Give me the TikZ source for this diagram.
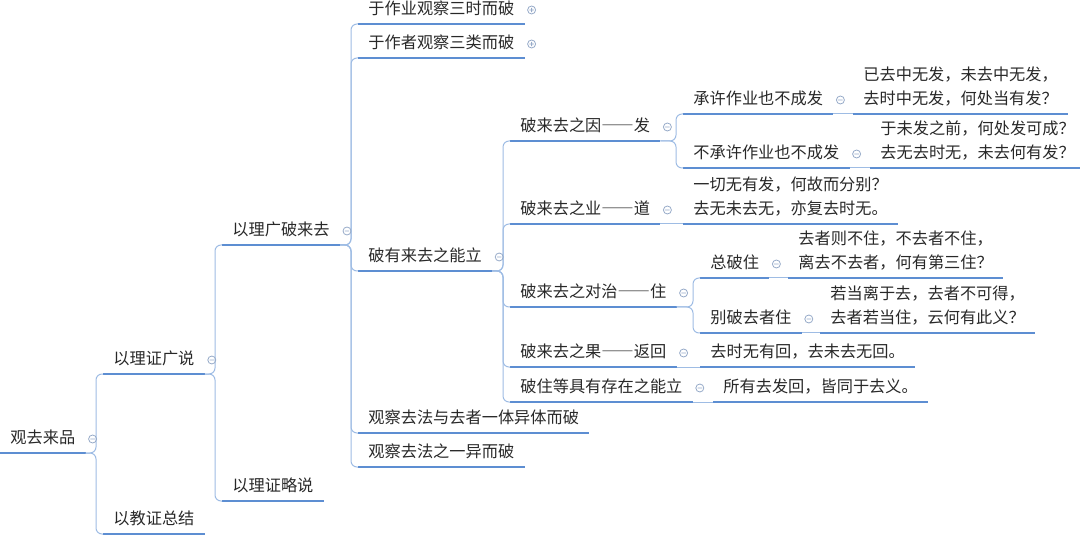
\documentclass[tikz,border=0pt]{standalone}
\usepackage{fontspec}
\setmainfont{Noto Sans CJK SC}
\usepackage{tikz}
\definecolor{lineblue}{RGB}{93, 142, 210}
\definecolor{linklight}{RGB}{158, 188, 228}
\definecolor{foldgray}{RGB}{150, 170, 200}
\definecolor{textdark}{RGB}{40, 40, 40}
\tikzset{
  topic/.style={anchor=south west, inner xsep=5pt, inner ysep=3pt,
    text height=6.5pt, text depth=1.5pt, text=textdark,
    font=\fontsize{8.1}{12}\selectfont,
    append after command={(\tikzlastnode.south west) edge[uline] (\tikzlastnode.south east)}},
  leaf/.style={topic, text height=, align=left},
  uline/.style={lineblue, line width=1.35pt},
  link/.style={linklight, line width=0.5pt, rounded corners=3pt},
  foldmark/.style={foldgray, line width=0.4pt}
}
% 全角破折号
\newcommand\fwdash{{\addfontfeature{RawFeature=+fwid}——}}
% 折叠按钮与分支连线
\newcommand\foldicon[1]{\draw[foldmark] ([xshift=3.5pt,yshift=7pt]#1.south east) circle (2pt) +(-1.1pt,0) -- +(1.1pt,0);}
\newcommand\expandicon[1]{\draw[foldmark] ([xshift=3.5pt,yshift=7pt]#1.south east) circle (2pt) +(-1.1pt,0) -- +(1.1pt,0) +(0,-1.1pt) -- +(0,1.1pt);}
\newcommand\branch[2]{\draw[link] (#1.south east) -| ([xshift=-3.5pt]#2.south west) -- (#2.south west);}

\begin{document}
\begin{tikzpicture}[x=0.5pt, y=-0.5pt]
  \useasboundingbox (0,0) rectangle (1080,539);

  % 第一层
  \node[topic] (root) at (0,453) {观去来品};
  \node[topic] (gz) at (103,374) {以理证广说};
  \node[topic] (jz) at (103,534) {以教证总结};

  % 第二层
  \node[topic] (gp) at (222,245) {以理广破来去};
  \node[topic] (ls) at (222,501) {以理证略说};

  % 第三层
  \node[topic] (sx) at (358,24) {于作业观察三时而破};
  \node[topic] (sl) at (358,58) {于作者观察三类而破};
  \node[topic] (nl) at (358,271) {破有来去之能立};
  \node[topic] (yt) at (358,433) {观察去法与去者一体异体而破};
  \node[topic] (yy) at (358,467) {观察去法之一异而破};

  % 破有来去之能立
  \node[topic] (yin) at (510,141) {破来去之因\fwdash 发};
  \node[topic] (ye) at (510,224) {破来去之业\fwdash 道};
  \node[topic] (dz) at (510,307) {破来去之对治\fwdash 住};
  \node[topic] (guo) at (510,367) {破来去之果\fwdash 返回};
  \node[topic] (nll) at (510,402) {破住等具有存在之能立};

  \node[topic] (cx) at (683,114) {承许作业也不成发};
  \node[topic] (bcx) at (683,168) {不承许作业也不成发};
  \node[topic] (zp) at (700,278) {总破住};
  \node[topic] (bp) at (700,333) {别破去者住};

  % 偈颂
  \node[leaf] (cx1) at (853,114) {已去中无发，未去中无发，\\去时中无发，何处当有发？};
  \node[leaf] (bcx1) at (870,168) {于未发之前，何处发可成？\\去无去时无，未去何有发？};
  \node[leaf] (ye1) at (683,224) {一切无有发，何故而分别？\\去无未去无，亦复去时无。};
  \node[leaf] (zp1) at (788,278) {去者则不住，不去者不住，\\离去不去者，何有第三住？};
  \node[leaf] (bp1) at (820,333) {若当离于去，去者不可得，\\去者若当住，云何有此义？};
  \node[leaf] (guo1) at (700,367) {去时无有回，去未去无回。};
  \node[leaf] (nll1) at (713,402) {所有去发回，皆同于去义。};

  % 连线
  \branch{root}{gz} \branch{root}{jz}
  \branch{gz}{gp} \branch{gz}{ls}
  \branch{gp}{sx} \branch{gp}{sl} \branch{gp}{nl} \branch{gp}{yt} \branch{gp}{yy}
  \branch{nl}{yin} \branch{nl}{ye} \branch{nl}{dz} \branch{nl}{guo} \branch{nl}{nll}
  \branch{yin}{cx} \branch{yin}{bcx}
  \branch{dz}{zp} \branch{dz}{bp}
  \draw[link] (cx.south east) -- (cx1.south west);
  \draw[link] (bcx.south east) -- (bcx1.south west);
  \draw[link] (ye.south east) -- (ye1.south west);
  \draw[link] (zp.south east) -- (zp1.south west);
  \draw[link] (bp.south east) -- (bp1.south west);
  \draw[link] (guo.south east) -- (guo1.south west);
  \draw[link] (nll.south east) -- (nll1.south west);

  % 折叠按钮
  \foldicon{root} \foldicon{gz} \foldicon{gp} \foldicon{nl}
  \foldicon{yin} \foldicon{ye} \foldicon{dz} \foldicon{guo} \foldicon{nll}
  \foldicon{cx} \foldicon{bcx} \foldicon{zp} \foldicon{bp}
  \expandicon{sx} \expandicon{sl}
\end{tikzpicture}
\end{document}
